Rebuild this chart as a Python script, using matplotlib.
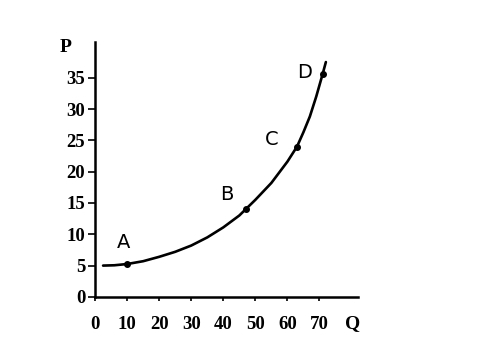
import matplotlib
matplotlib.use('Agg')
import matplotlib.pyplot as plt

# supply curve
q_curve = [2.5, 6, 10, 15, 20, 25, 30, 35, 40, 45, 47, 50, 55, 60, 63, 65, 67, 69, 71, 72]
p_curve = [5.0, 5.05, 5.25, 5.7, 6.4, 7.2, 8.2, 9.5, 11.1, 13.0, 14.0, 15.5, 18.2, 21.6, 24.0, 26.3, 28.8, 32.0, 35.6, 37.5]

point_names = ['A', 'B', 'C', 'D']
point_q = [10, 47, 63, 71]
point_p = [5.2, 14.0, 24.0, 35.6]

x_ticks = [0, 10, 20, 30, 40, 50, 60, 70]
y_ticks = [0, 5, 10, 15, 20, 25, 30, 35]

fig = plt.figure(figsize=(4.85, 3.56), dpi=100)
ax = fig.add_axes([0.196, 0.166, 0.542, 0.716])

ax.plot(q_curve, p_curve, color='black', linewidth=1.9, solid_capstyle='round')
ax.plot(point_q, point_p, 'o', color='black', markersize=4)

# label offsets (in data units) for each point
offsets = [(-1, 3.5), (-6, 2.3), (-8, 1.2), (-5.5, 0.2)]
for name, q, p, (dq, dp) in zip(point_names, point_q, point_p, offsets):
    ax.text(q + dq, p + dp, name, fontsize=14, family='DejaVu Sans',
            ha='center', va='center')

ax.set_xlim(0, 82)
ax.set_ylim(0, 40.7)
ax.set_xticks(x_ticks)
ax.set_yticks(y_ticks)

for lab in ax.get_xticklabels() + ax.get_yticklabels():
    lab.set_family('Liberation Serif')
    lab.set_fontsize(13.5)
    lab.set_fontweight('bold')

ax.tick_params(axis='x', direction='out', length=3, width=1.2, pad=11)
ax.tick_params(axis='y', direction='out', length=5, width=1.2, pad=2)

ax.spines['top'].set_visible(False)
ax.spines['right'].set_visible(False)
ax.spines['left'].set_linewidth(1.8)
ax.spines['bottom'].set_linewidth(1.8)

fig.text(66 / 485, 1 - 47 / 356, 'P', fontsize=14, family='Liberation Serif',
         fontweight='bold', ha='center', va='center')
fig.text(353 / 485, 1 - 324 / 356, 'Q', fontsize=14, family='Liberation Serif',
         fontweight='bold', ha='center', va='center')

fig.savefig('out.png', dpi=100)
